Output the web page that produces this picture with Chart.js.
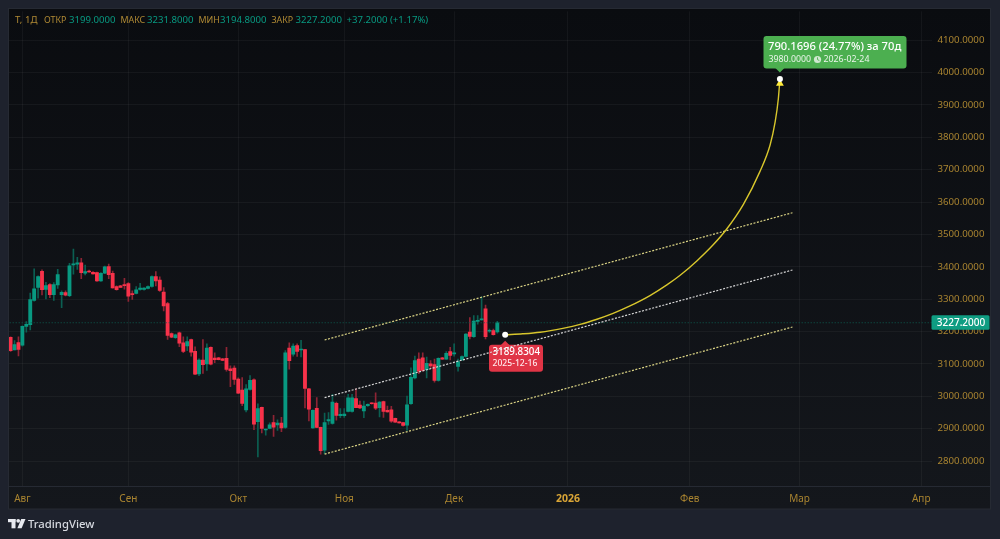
<!DOCTYPE html>
<html><head><meta charset="utf-8">
<style>html,body{margin:0;padding:0;background:#1e222d;overflow:hidden}canvas{display:block}</style>
<script src="https://cdn.jsdelivr.net/npm/chart.js@4"></script>
</head><body><canvas id="c" width="1000" height="539"></canvas>
<script>
const opens=[3182,3143,3166,3158,3216,3221,3296,3336,3386,3330,3345,3314,3344,3314,3320,3311,3406,3408,3412,3380,3387,3383,3382,3356,3380,3401,3380,3339,3341,3344,3348,3316,3318,3330,3330,3333,3339,3370,3359,3322,3286,
3194,3181,3196,3165,3156,3175,3139,3069,3112,3100,3151,3118,3119,3116,3117,3085,3087,3053,3019,2958,3021,3051,2922,2966,2896,2901,2919,2912,2917,2904,3149,3130,3157,3143,3144,3023,2902,2963,2904,2834,2924,2916,2978,2940,2940,2953,2953,2993,2973,2955,2971,2979,2979,2965,2984,2957,2958,2932,2921,2919,2911,2977,
3057,3115,3119,3082,3100,3098,3049,3119,3115,3138,3131,3092,3112,3123,3198,3184,3231,3236,3270,3201,3203,3199];
const highs=[3184,3172,3184,3218,3231,3319,3394,3372,3391,3352,3348,3351,3392,3326,3326,3411,3455,3429,3426,3405,3390,3385,3384,3382,3402,3408,3387,3341,3343,3364,3351,3326,3339,3349,3336,3341,3372,3385,3369,3336,3290,
3196,3192,3198,3184,3184,3177,3153,3116,3175,3162,3153,3134,3120,3117,3151,3094,3094,3057,3058,3036,3064,3054,2977,2967,2899,2918,2941,2927,2935,3141,3165,3162,3162,3173,3145,3025,2958,2996,2905,2948,2950,3006,2982,2962,2962,3006,3006,3023,2985,2985,2977,2980,3011,2984,2985,2970,2969,2933,2922,2920,3001,3088,
3124,3134,3134,3121,3110,3115,3119,3120,3138,3151,3162,3115,3125,3194,3243,3249,3249,3307,3282,3208,3208,3231.8];
const lows=[3139,3143,3125,3155,3198,3205,3294,3303,3313,3301,3305,3296,3333,3274,3310,3308,3377,3392,3363,3375,3383,3377,3355,3355,3379,3363,3334,3328,3336,3331,3293,3299,3316,3328,3328,3332,3337,3341,3324,3264,3176,
3181,3179,3153,3135,3141,3124,3067,3064,3071,3080,3097,3104,3112,3110,3078,3030,3037,3008,2971,2952,3019,2897,2813,2887,2880,2899,2876,2895,2891,2901,3084,3124,3123,3122,2964,2924,2901,2903,2821,2823,2913,2914,2926,2934,2935,2952,2951,2965,2962,2934,2969,2976,2959,2936,2935,2951,2919,2919,2917,2908,2895,2975,
3054,3070,3078,3057,3085,3044,3047,3114,3114,3112,3124,3078,3111,3121,3177,3182,3223,3235,3177,3197,3189,3194.8];
const closes=[3141,3160,3145,3216,3222,3299,3332,3370,3329,3342,3314,3345,3376,3321,3312,3403,3409,3412,3382,3385,3384,3378,3356,3380,3400,3376,3335,3329,3336,3342,3309,3314,3329,3334,3334,3339,3370,3356,3327,3279,3188,
3183,3190,3164,3139,3169,3136,3068,3112,3098,3149,3099,3113,3113,3111,3083,3079,3052,3010,2978,3023,3049,2914,2962,2901,2898,2912,2905,2917,2902,3134,3110,3155,3139,3146,3024,2960,2957,2904,2832,2919,2928,2982,2941,2944,2945,2995,2995,2965,2964,2970,2975,2977,2963,2982,2953,2952,2923,2920,2918,2910,2974,3059,
3110,3078,3080,3102,3094,3049,3117,3115,3133,3126,3133,3107,3123,3192,3185,3232,3235,3236,3184,3203,3190,3227.2];

const priceTicks=[2800,2900,3000,3100,3200,3300,3400,3500,3600,3700,3800,3900,4000,4100];
const timeTickIdx=[3,30,58,85,113,142,173,201,232];
const timeTickLabels=['Авг','Сен','Окт','Ноя','Дек','2026','Фев','Мар','Апр'];

const channelIdx=[80,199.2];
const channelTop=[3174,3567];
const channelMid=[2996,3390];
const channelBottom=[2821.5,3214];

const curveIdx=[126,130.5,134.9,140.7,145.1,149.4,153.5,157.8,162.9,167.2,170.5,174.9,179,182.4,186.7,190.9,193.5,194.8,195.6,196];
const curvePrice=[3189.83,3193,3198,3210,3222,3238,3256,3279,3311,3344,3373,3419,3468,3516,3593,3694,3776,3848,3919,3980];

const lastPrice=3227.2;
const startIdx=126,startPrice=3189.83,endIdx=196,endPrice=3980;
const FONT='"Noto Sans"';
const UP='#089981',DOWN='#f8324a',UPW='#0b5f52',DOWNW='#8e2434';
const isUp=i=>closes[i]>=opens[i];
const idx=opens.map((_,i)=>i);
const pts=(a,b)=>a.map((x,i)=>({x,y:b[i]}));

function roundBox(g,x,y,w,h,r,tipX,tipTop,dir,fill){
  g.fillStyle=fill;g.beginPath();g.roundRect(x,y,w,h,r);g.fill();
  g.beginPath();
  if(dir<0){g.moveTo(tipX-5,y+1);g.lineTo(tipX,tipTop);g.lineTo(tipX+5,y+1);}
  else{g.moveTo(tipX-5,y+h-1);g.lineTo(tipX,tipTop);g.lineTo(tipX+5,y+h-1);}
  g.closePath();g.fill();
}
function txt(g,s,x,y,font,color,align){
  g.font=font;g.fillStyle=color;g.textAlign=align||'left';g.textBaseline='middle';g.fillText(s,x,y);
}

const paint={
  id:'paint',
  beforeDraw(ch){
    const g=ch.ctx;
    g.save();
    g.fillStyle='#1e222d';g.fillRect(0,0,1000,539);
    const gr=g.createLinearGradient(0,9,0,509);
    gr.addColorStop(0,'#0a0c10');gr.addColorStop(1,'#14171c');
    g.fillStyle=gr;g.fillRect(9,9,982,500);
    g.strokeStyle='#262a33';g.lineWidth=1;g.strokeRect(8.5,8.5,982,500.5);
    g.beginPath();g.moveTo(9,486.5);g.lineTo(991,486.5);g.stroke();
    g.restore();
  },
  beforeDatasetsDraw(ch){
    const g=ch.ctx,x=ch.scales.x,y=ch.scales.y;
    const px=x.getPixelForValue(startIdx),py=y.getPixelForValue(startPrice);
    g.save();
    roundBox(g,489,py+10,54,27,3,px,py+6,-1,'#e03546');
    g.restore();
  },
  afterDraw(ch){
    const g=ch.ctx,x=ch.scales.x,y=ch.scales.y;
    g.save();
    const py=y.getPixelForValue(startPrice);
    txt(g,'3189.8304',492.5,py+17.5,'500 9.8px '+FONT,'#ffffff');
    txt(g,'2025-12-16',492.5,py+28.5,'500 8.6px '+FONT,'#ffe9eb');

    const ex=x.getPixelForValue(endIdx);
    roundBox(g,763.5,36,143,32.5,3,ex,72.5,1,'#4caf50');
    txt(g,'790.1696 (24.77%) за 70д',768,46.5,'500 11.2px '+FONT,'#ffffff');
    txt(g,'3980.0000',768.5,59.5,'8.8px '+FONT,'#eaf5ea');
    g.fillStyle='#cfe8d0';g.beginPath();g.arc(817.5,59.5,3.6,0,7);g.fill();
    g.strokeStyle='#4caf50';g.lineWidth=0.9;g.beginPath();g.moveTo(817.5,57.3);g.lineTo(817.5,59.6);g.lineTo(819.3,60.5);g.stroke();
    txt(g,'2026-02-24',823.5,59.5,'8.8px '+FONT,'#eaf5ea');

    const ly=y.getPixelForValue(lastPrice);
    g.fillStyle='#0f9d82';g.beginPath();g.roundRect(931.5,ly-7.5,58,14.5,1.5);g.fill();
    txt(g,lastPrice.toFixed(4),961,ly,'500 10px '+FONT,'#ffffff','center');

    const gold='#b08a34',teal='#089981',hf='9.6px '+FONT,lf='8.9px '+FONT,hy=20.5;
    txt(g,'Т, 1Д',15,hy,hf,gold);
    txt(g,'ОТКР',44,hy,lf,gold);txt(g,opens[opens.length-1].toFixed(4),69,hy,hf,teal);
    txt(g,'МАКС',120.5,hy,lf,gold);txt(g,highs[highs.length-1].toFixed(4),147,hy,hf,teal);
    txt(g,'МИН',198.5,hy,lf,gold);txt(g,lows[lows.length-1].toFixed(4),220,hy,hf,teal);
    txt(g,'ЗАКР',271.5,hy,lf,gold);txt(g,closes[closes.length-1].toFixed(4),295.5,hy,hf,teal);
    txt(g,'+37.2000 (+1.17%)',346.5,hy,hf,teal);

    g.fillStyle='#e8eaf0';
    g.fillRect(8,519,7.5,3.2);g.fillRect(11.5,519,4,9.3);
    g.beginPath();g.arc(18.2,520.8,1.9,0,7);g.fill();
    g.beginPath();g.moveTo(21.2,519);g.lineTo(25.5,519);g.lineTo(21.6,528.3);g.lineTo(17.4,528.3);g.closePath();g.fill();
    txt(g,'TradingView',28,524.5,'500 11.3px '+FONT,'#d6d9e0');
    g.restore();
  }
};

new Chart(document.getElementById('c'),{
  type:'bar',
  plugins:[paint],
  data:{datasets:[
    {type:'bar',order:9,grouped:false,barThickness:1,data:idx.map(i=>({x:i,y:[lows[i],highs[i]]})),backgroundColor:idx.map(i=>isUp(i)?UPW:DOWNW)},
    {type:'bar',order:8,grouped:false,barThickness:3.2,minBarLength:1,data:idx.map(i=>({x:i,y:[opens[i],closes[i]]})),backgroundColor:idx.map(i=>isUp(i)?UP:DOWN)},
    {type:'line',order:7,data:[{x:-1,y:lastPrice},{x:236,y:lastPrice}],borderColor:'#0d5a4e',borderWidth:1,borderDash:[1,2],pointRadius:0},
    {type:'line',order:6,data:pts(channelIdx,channelTop),borderColor:'#d9d284',borderWidth:1.2,borderDash:[2,1.5],pointRadius:0},
    {type:'line',order:6,data:pts(channelIdx,channelMid),borderColor:'#d5d5d5',borderWidth:1.2,borderDash:[2,1.5],pointRadius:0},
    {type:'line',order:6,data:pts(channelIdx,channelBottom),borderColor:'#d9d284',borderWidth:1.2,borderDash:[2,1.5],pointRadius:0},
    {type:'line',order:5,data:pts(curveIdx,curvePrice),borderColor:'#d8c62c',borderWidth:1.4,cubicInterpolationMode:'monotone',pointRadius:0},
    {type:'line',order:4,showLine:false,data:[{x:endIdx,y:endPrice-14}],pointStyle:'triangle',pointRadius:4.5,pointBackgroundColor:'#ffeb3b',pointBorderWidth:0},
    {type:'line',order:3,showLine:false,data:[{x:startIdx,y:startPrice},{x:endIdx,y:endPrice}],pointRadius:3,pointBackgroundColor:'#ffffff',pointBorderWidth:0}
  ]},
  options:{
    responsive:false,animation:false,devicePixelRatio:1,
    layout:{padding:{left:9,top:9,right:0,bottom:0}},
    plugins:{legend:{display:false},tooltip:{enabled:false},title:{display:false}},
    events:[],
    scales:{
      x:{type:'linear',min:-0.41,max:234.75,offset:false,
        afterFit(s){s.height=53;},
        afterBuildTicks(s){s.ticks=timeTickIdx.map(v=>({value:v}));},
        grid:{color:'rgba(255,255,255,0.045)',drawTicks:false,offset:false},border:{display:false},
        ticks:{autoSkip:false,maxRotation:0,padding:7,
          callback(v){const i=timeTickIdx.indexOf(v);return i<0?'':timeTickLabels[i];},
          font(c){return c.tick&&c.tick.value===142?{family:FONT,size:10.5,weight:'700'}:{family:FONT,size:10};},
          color(c){return c.tick&&c.tick.value===142?'#d9a536':'#a98430';}}},
      y:{type:'linear',position:'right',min:2723,max:4189,
        afterFit(s){s.width=68;},
        afterBuildTicks(s){s.ticks=priceTicks.map(v=>({value:v}));},
        grid:{color:'rgba(255,255,255,0.045)',drawTicks:false},border:{display:false},
        ticks:{autoSkip:false,padding:5.5,color:'#a98430',font:{family:FONT,size:9.7},
          callback(v){return v.toFixed(4);}}}
    }
  }
});
</script></body></html>
